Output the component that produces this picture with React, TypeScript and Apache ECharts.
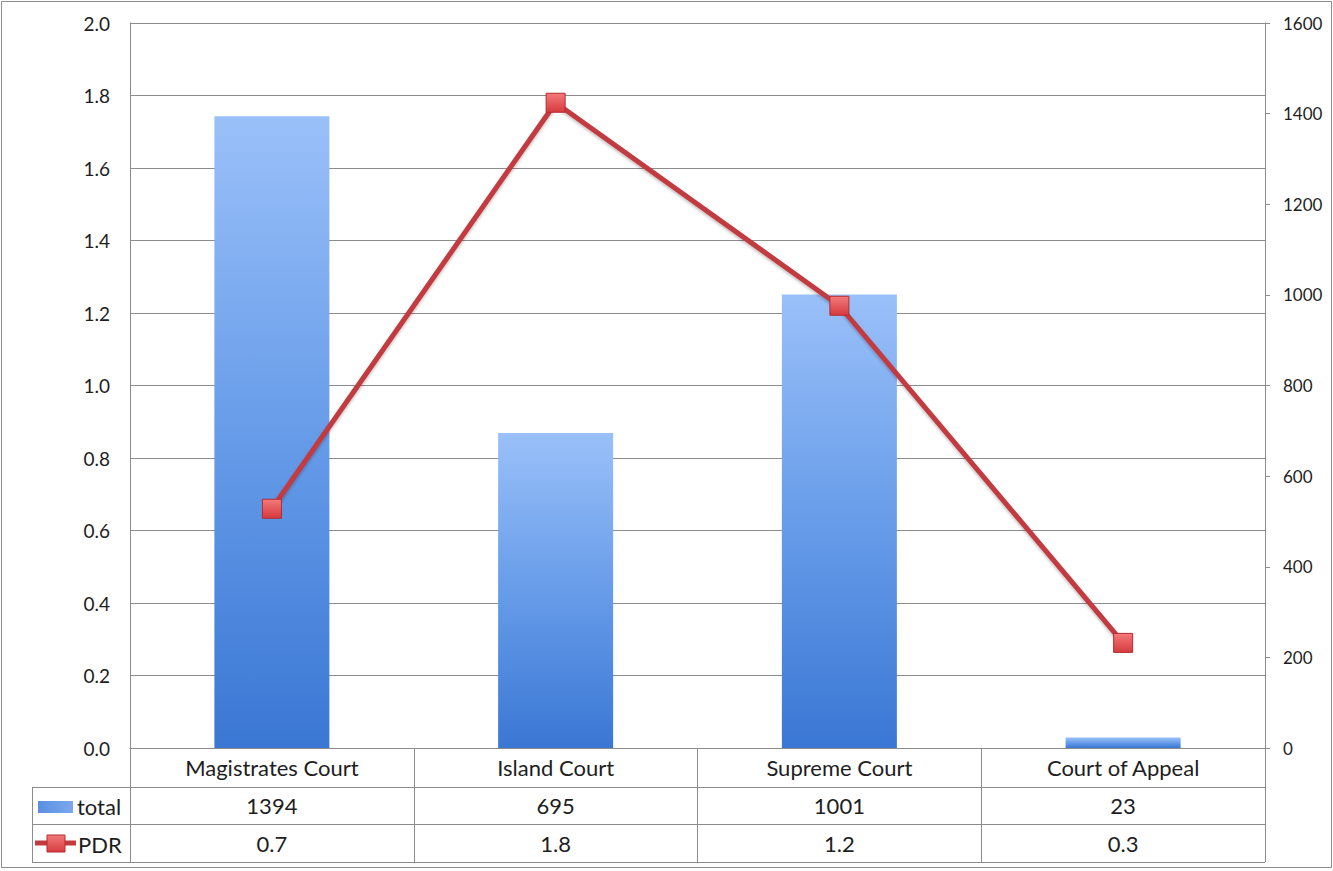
import React, { useEffect, useRef } from "react";
import * as echarts from "echarts";

const categories = ["Magistrates Court", "Island Court", "Supreme Court", "Court of Appeal"];
const totals = [1394, 695, 1001, 23];
const pdr = [0.66, 1.78, 1.22, 0.29];
const leftAxis = { min: 0, max: 2, interval: 0.2 };
const rightAxis = { min: 0, max: 1600, interval: 200 };
const seriesNames = { bar: "total", line: "PDR" };

const FONT = "Lato";
const TEXT = "#1e1e1e";
const LINE_GRAY = "#8c8c8c";
const TABLE_FS = 22;

export default function App() {
  const ref = useRef<HTMLDivElement>(null);
  useEffect(() => {
    if (!ref.current) return;
    const chart = echarts.init(ref.current, undefined, { renderer: "svg" });
    const W = 1333;
    const gridLeft = 130;
    const gridRight = 68;
    const gridTop = 23;
    const gridBottom = 123;
    const axisY = 871 - gridBottom; // 748
    const plotRight = W - gridRight; // 1265
    const rowLines = [787, 824, 862];
    const tableLeft = 32;

    const barGradient = new echarts.graphic.LinearGradient(0, 0, 0, 1, [
      { offset: 0, color: "#9ac0f9" },
      { offset: 0.5, color: "#679ce9" },
      { offset: 1, color: "#3a77d4" },
    ]);
    const markerGradient = new echarts.graphic.LinearGradient(0, 0, 0, 1, [
      { offset: 0, color: "#f47a7a" },
      { offset: 1, color: "#d63a3e" },
    ]);

    const option: any = {
      animation: false,
      backgroundColor: "#ffffff",
      textStyle: { fontFamily: FONT },
      grid: { left: gridLeft, right: gridRight, top: gridTop, bottom: gridBottom, containLabel: false },
      xAxis: [
        {
          type: "category",
          data: categories,
          position: "bottom",
          boundaryGap: true,
          axisLine: { show: true, lineStyle: { color: LINE_GRAY, width: 1 } },
          axisTick: { show: true, length: rowLines[2] - axisY, interval: 0, lineStyle: { color: LINE_GRAY, width: 1 } },
          axisLabel: { interval: 0, margin: 19, verticalAlign: "middle", color: TEXT, fontSize: TABLE_FS, fontFamily: FONT },
        },
        {
          type: "category",
          data: totals.map((v) => String(v)),
          position: "bottom",
          offset: 0,
          axisLine: { show: false },
          axisTick: { show: false },
          axisLabel: { interval: 0, margin: 57, verticalAlign: "middle", color: TEXT, fontSize: TABLE_FS, fontFamily: FONT },
        },
        {
          type: "category",
          data: pdr.map((v) => v.toFixed(1)),
          position: "bottom",
          offset: 0,
          axisLine: { show: false },
          axisTick: { show: false },
          axisLabel: { interval: 0, margin: 95, verticalAlign: "middle", color: TEXT, fontSize: TABLE_FS, fontFamily: FONT },
        },
      ],
      yAxis: [
        {
          type: "value",
          position: "left",
          min: leftAxis.min,
          max: leftAxis.max,
          interval: leftAxis.interval,
          axisLine: { show: true, lineStyle: { color: LINE_GRAY, width: 1 } },
          axisTick: { show: false },
          splitLine: { show: true, lineStyle: { color: LINE_GRAY, width: 1 } },
          axisLabel: { margin: 20, color: TEXT, fontSize: 19, fontFamily: FONT, formatter: (v: number) => v.toFixed(1) },
        },
        {
          type: "value",
          position: "right",
          min: rightAxis.min,
          max: rightAxis.max,
          interval: rightAxis.interval,
          axisLine: { show: true, lineStyle: { color: LINE_GRAY, width: 1 } },
          axisTick: { show: true, length: 5, lineStyle: { color: LINE_GRAY } },
          splitLine: { show: false },
          axisLabel: { margin: 18, color: TEXT, fontSize: 17, fontFamily: FONT, formatter: (v: number) => String(v) },
        },
      ],
      series: [
        {
          name: seriesNames.bar,
          type: "bar",
          xAxisIndex: 0,
          yAxisIndex: 1,
          data: totals,
          barWidth: 115,
          itemStyle: { color: barGradient },
          z: 2,
        },
        {
          name: seriesNames.line,
          type: "line",
          xAxisIndex: 0,
          yAxisIndex: 0,
          data: pdr,
          symbol: "rect",
          symbolSize: 19,
          lineStyle: { color: "#c23a3f", width: 5, shadowColor: "rgba(0,0,0,0.25)", shadowBlur: 3, shadowOffsetY: 2 },
          itemStyle: { color: markerGradient, borderColor: "#b52a2f", borderWidth: 1 },
          z: 5,
        },
      ],
      graphic: [
        {
          type: "rect",
          shape: { x: 1.5, y: 1.5, width: W - 3, height: 866 },
          style: { fill: "none", stroke: LINE_GRAY, lineWidth: 1 },
          silent: true,
          z: 0,
        },
        ...rowLines.map((y) => ({
          type: "line",
          shape: { x1: tableLeft, y1: y + 0.5, x2: plotRight, y2: y + 0.5 },
          style: { stroke: LINE_GRAY, lineWidth: 1 },
          silent: true,
          z: 10,
        })),
        {
          type: "line",
          shape: { x1: tableLeft + 0.5, y1: rowLines[0], x2: tableLeft + 0.5, y2: rowLines[2] },
          style: { stroke: LINE_GRAY, lineWidth: 1 },
          silent: true,
          z: 10,
        },
        {
          type: "rect",
          shape: { x: 38, y: 801, width: 35, height: 12 },
          style: {
            fill: new echarts.graphic.LinearGradient(0, 0, 1, 0, [
              { offset: 0, color: "#5a8fe0" },
              { offset: 1, color: "#7aa8ee" },
            ]),
          },
          silent: true,
          z: 10,
        },
        {
          type: "text",
          style: { x: 77, y: 806, text: seriesNames.bar, fill: TEXT, font: `${TABLE_FS}px ${FONT}`, verticalAlign: "middle" },
          silent: true,
          z: 10,
        },
        {
          type: "line",
          shape: { x1: 35, y1: 843, x2: 76, y2: 843 },
          style: { stroke: "#c23a3f", lineWidth: 5 },
          silent: true,
          z: 10,
        },
        {
          type: "rect",
          shape: { x: 47, y: 835, width: 18, height: 17 },
          style: { fill: markerGradient, stroke: "#b52a2f", lineWidth: 1 },
          silent: true,
          z: 11,
        },
        {
          type: "text",
          style: { x: 78, y: 844, text: seriesNames.line, fill: TEXT, font: `${TABLE_FS}px ${FONT}`, verticalAlign: "middle" },
          silent: true,
          z: 10,
        },
      ],
    };
    chart.setOption(option);
    return () => chart.dispose();
  }, []);
  return (
    <div
      ref={ref}
      style={{ position: "absolute", left: 0, top: 0, width: 1333, height: 871, background: "#fff" }}
    />
  );
}
